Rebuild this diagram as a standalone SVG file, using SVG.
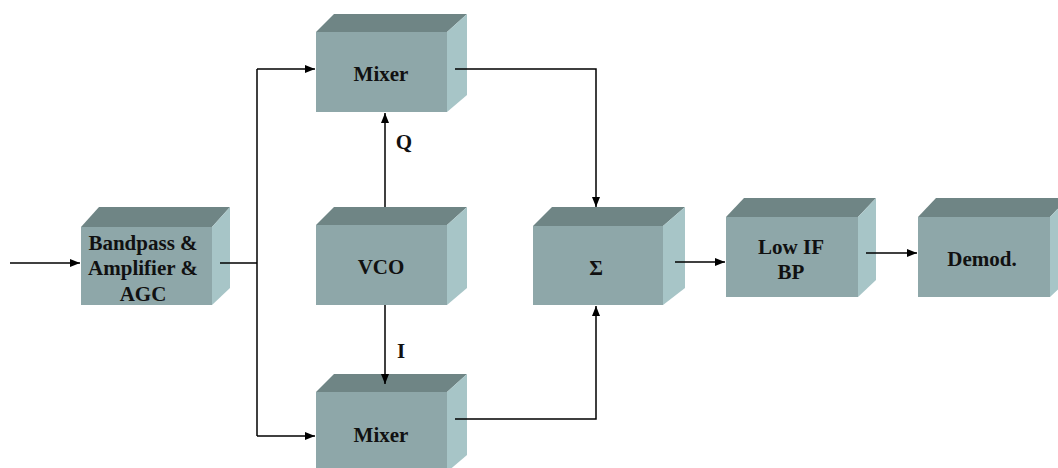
<svg xmlns="http://www.w3.org/2000/svg" width="1058" height="468" viewBox="0 0 1058 468">
<defs>
<style>
.front{fill:#8EA7A9}
.top{fill:#6F8585}
.side{fill:#A7C5C7}
.lbl{font-family:"Liberation Serif","Times New Roman",serif;font-weight:bold;font-size:21px;fill:#111;text-anchor:middle}
.ln{stroke:#000;stroke-width:1.5;fill:none}
</style>
<marker id="ah" viewBox="0 0 10 10" refX="10" refY="5" markerWidth="10" markerHeight="10" markerUnits="userSpaceOnUse" orient="auto">
<path d="M0,1 L10,5 L0,9 Z" fill="#000"/>
</marker>
</defs>
<rect width="1058" height="468" fill="#fff"/>

<g id="mixer-q">
<polygon class="top" points="316,32 334,14 467,14 447,32"/>
<polygon class="side" points="447,32 467,14 467,95 447,112"/>
<rect class="front" x="316" y="32" width="131" height="80"/>
<text class="lbl" x="381" y="81">Mixer</text>
</g>

<g id="bandpass">
<polygon class="top" points="81,227 99,207 230,207 212,227"/>
<polygon class="side" points="212,227 230,207 230,288 212,305"/>
<rect class="front" x="81" y="227" width="131" height="78"/>
<text class="lbl" x="143" y="250">Bandpass &amp;</text>
<text class="lbl" x="143" y="275">Amplifier &amp;</text>
<text class="lbl" x="143" y="301">AGC</text>
</g>

<g id="vco">
<polygon class="top" points="316,225 334,207 467,207 447,225"/>
<polygon class="side" points="447,225 467,207 467,288 447,305"/>
<rect class="front" x="316" y="225" width="131" height="80"/>
<text class="lbl" x="381" y="274">VCO</text>
</g>

<g id="sum">
<polygon class="top" points="533,226 552,207 685,207 663,226"/>
<polygon class="side" points="663,226 685,207 685,288 663,305"/>
<rect class="front" x="533" y="226" width="130" height="79"/>
<text class="lbl" x="596" y="275">Σ</text>
</g>

<g id="lowif">
<polygon class="top" points="726,217 744,198 876,198 858,217"/>
<polygon class="side" points="858,217 876,198 876,280 858,297"/>
<rect class="front" x="726" y="217" width="132" height="80"/>
<text class="lbl" x="791" y="254">Low IF</text>
<text class="lbl" x="791" y="279">BP</text>
</g>

<g id="demod">
<polygon class="top" points="918,217 936,198 1068,198 1050,217"/>
<polygon class="side" points="1050,217 1068,198 1068,280 1050,297"/>
<rect class="front" x="918" y="217" width="132" height="80"/>
<text class="lbl" x="982" y="266">Demod.</text>
</g>

<g id="mixer-i">
<polygon class="top" points="316,392 334,374 467,374 447,392"/>
<polygon class="side" points="447,392 467,374 467,455 447,472"/>
<rect class="front" x="316" y="392" width="131" height="80"/>
<text class="lbl" x="381" y="442">Mixer</text>
</g>

<g id="connectors">
<path class="ln" d="M10,263 H80" marker-end="url(#ah)"/>
<path class="ln" d="M220,263 H257"/>
<path class="ln" d="M257,69 V436"/>
<path class="ln" d="M257,69 H315" marker-end="url(#ah)"/>
<path class="ln" d="M257,436 H315" marker-end="url(#ah)"/>
<path class="ln" d="M455,69 H596 V207" marker-end="url(#ah)"/>
<path class="ln" d="M455,419 H596 V306" marker-end="url(#ah)"/>
<path class="ln" d="M385,207 V113" marker-end="url(#ah)"/>
<path class="ln" d="M385,305 V384" marker-end="url(#ah)"/>
<path class="ln" d="M675,262 H725" marker-end="url(#ah)"/>
<path class="ln" d="M866,253 H917" marker-end="url(#ah)"/>
<text class="lbl" x="404" y="149" font-size="19">Q</text>
<text class="lbl" x="401" y="358" font-size="19">I</text>
</g>
</svg>
